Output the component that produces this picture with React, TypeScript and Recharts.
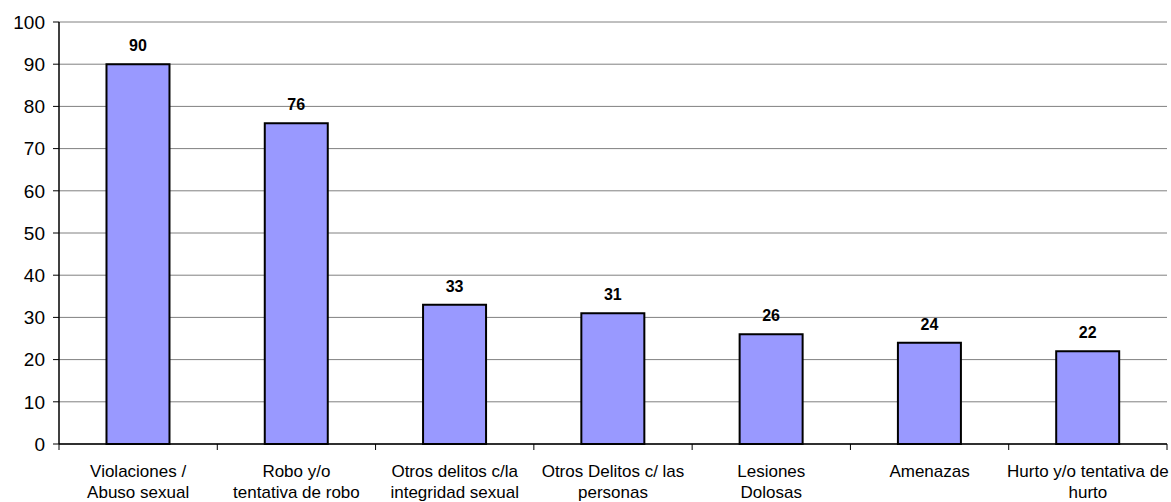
import React from 'react';
import { BarChart, Bar, XAxis, YAxis, CartesianGrid, LabelList } from 'recharts';

const categories = [
  'Violaciones /\nAbuso sexual',
  'Robo y/o\ntentativa de robo',
  'Otros delitos c/la\nintegridad sexual',
  'Otros Delitos c/ las\npersonas',
  'Lesiones\nDolosas',
  'Amenazas',
  'Hurto y/o tentativa de\nhurto',
];
const values = [90, 76, 33, 31, 26, 24, 22];
const yTicks = [0, 10, 20, 30, 40, 50, 60, 70, 80, 90, 100];

const data = categories.map((c, i) => ({ name: c, value: values[i] }));

const FONT = 'Arial, "Liberation Sans", sans-serif';

const CatTick = (props: any) => {
  const { x, y, payload, index, visibleTicksCount, width } = props;
  const count = visibleTicksCount || categories.length;
  const w = width && count ? Number(width) / count : (payload && payload.offset ? payload.offset * 2 : 158);
  const lines = String(payload.value).split('\n');
  return (
    <g>
      <line x1={x - w / 2} x2={x - w / 2} y1={y} y2={y + 6} stroke="#000" strokeWidth={1} />
      {index === count - 1 && (
        <line x1={x + w / 2} x2={x + w / 2} y1={y} y2={y + 6} stroke="#000" strokeWidth={1} />
      )}
      <text x={x} y={y} textAnchor="middle" fontFamily={FONT} fontSize={17} fill="#000">
        {lines.map((l, i) => (
          <tspan key={i} x={x} dy={i === 0 ? 33 : 21}>{l}</tspan>
        ))}
      </text>
    </g>
  );
};

export default function App() {
  return (
    <div style={{ position: 'absolute', left: 0, top: 0, width: 1171, height: 502, background: '#fff' }}>
      <BarChart
        width={1171}
        height={502}
        data={data}
        margin={{ top: 22, right: 4, left: 0, bottom: 8 }}
        barCategoryGap="30%"
      >
        <CartesianGrid vertical={false} stroke="#808080" strokeWidth={1} />
        <XAxis
          dataKey="name"
          interval={0}
          tick={<CatTick />}
          tickLine={false}
          tickSize={0}
          tickMargin={0}
          axisLine={{ stroke: '#000', strokeWidth: 1.5 }}
          height={50}
        />
        <YAxis
          domain={[0, 100]}
          ticks={yTicks}
          width={59}
          tickSize={6}
          tickMargin={8}
          tickLine={{ stroke: '#000', strokeWidth: 1 }}
          axisLine={{ stroke: '#000', strokeWidth: 1.5 }}
          tick={{ fill: '#000', fontSize: 19, fontFamily: FONT }}
        />
        <YAxis
          yAxisId="right"
          orientation="right"
          domain={[0, 100]}
          width={0}
          tick={false}
          tickLine={false}
          axisLine={{ stroke: '#808080', strokeWidth: 2 }}
        />
        <Bar dataKey="value" fill="#9999FF" stroke="#000" strokeWidth={2} isAnimationActive={false}>
          <LabelList
            dataKey="value"
            position="top"
            offset={13}
            fill="#000"
            fontSize={16}
            fontWeight="bold"
            fontFamily={FONT}
          />
        </Bar>
      </BarChart>
    </div>
  );
}
